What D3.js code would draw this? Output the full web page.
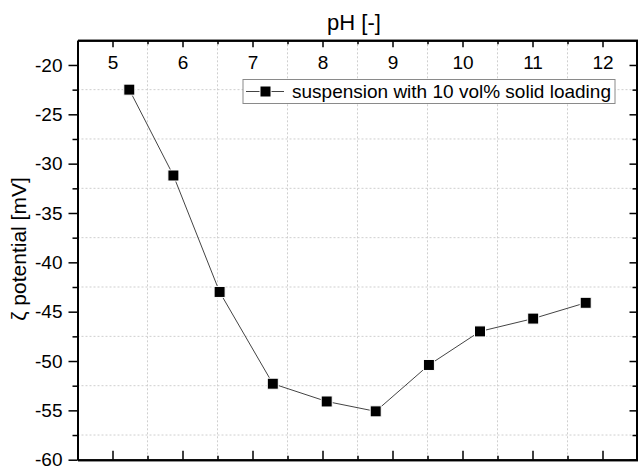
<!DOCTYPE html>
<html>
<head>
<meta charset="utf-8">
<script src="https://cdn.jsdelivr.net/npm/d3@7"></script>
<style>
body { margin: 0; background: #fff; }
text { font-family: "Liberation Sans", Arial, sans-serif; fill: #000; }
</style>
</head>
<body>
<script>
var width = 638;
var height = 468;

// data
var phValues = [5.24, 5.87, 6.53, 7.29, 8.06, 8.76, 9.52, 10.25, 11.01, 11.76];
var zetaValues = [-22.5, -31.2, -43.0, -52.3, -54.1, -55.1, -50.4, -47.0, -45.7, -44.1];
var xTicks = [5, 6, 7, 8, 9, 10, 11, 12];
var xMinor = [5.5, 6.5, 7.5, 8.5, 9.5, 10.5, 11.5];
var yTicks = [-20, -25, -30, -35, -40, -45, -50, -55, -60];
var yMinor = [-22.5, -27.5, -32.5, -37.5, -42.5, -47.5, -52.5, -57.5];
var seriesName = "suspension with 10 vol% solid loading";

var data = phValues.map(function (d, i) { return { ph: d, zeta: zetaValues[i] }; });

var x = d3.scaleLinear().domain([4.5, 12.5]).range([77.5, 637.5]);
var y = d3.scaleLinear().domain([-60, -17.5]).range([459.7, 40.3]);

var svg = d3.select("body").append("svg")
    .attr("width", width)
    .attr("height", height);

// grid at the minor positions
svg.append("g").selectAll("line.gx")
    .data(xMinor).enter().append("line")
    .attr("x1", function (d) { return x(d); })
    .attr("x2", function (d) { return x(d); })
    .attr("y1", y.range()[1])
    .attr("y2", y.range()[0])
    .style("stroke", "#cfcfcf")
    .style("stroke-width", 1)
    .style("stroke-dasharray", "2,2");

svg.append("g").selectAll("line.gy")
    .data(yMinor).enter().append("line")
    .attr("x1", x.range()[0])
    .attr("x2", x.range()[1])
    .attr("y1", function (d) { return y(d); })
    .attr("y2", function (d) { return y(d); })
    .style("stroke", "#cfcfcf")
    .style("stroke-width", 1)
    .style("stroke-dasharray", "2,2");

function styleAxis(g) {
    g.selectAll(".domain").style("stroke", "#000").style("stroke-width", 2);
    g.selectAll(".tick line").style("stroke", "#000").style("stroke-width", 1.5);
    g.selectAll(".tick text").style("font-size", "19px").style("font-family", "Liberation Sans, Arial, sans-serif");
}

var plainFormat = function (d) { return String(d); };

// top axis: labels, inward ticks
var topAxis = svg.append("g")
    .attr("transform", "translate(0," + y.range()[1] + ")")
    .call(d3.axisTop(x).tickValues(xTicks).tickSize(-7).tickFormat(plainFormat).tickSizeOuter(0));
styleAxis(topAxis);
topAxis.selectAll(".tick text").attr("dy", "0.35em").attr("y", 22);
svg.append("g")
    .attr("transform", "translate(0," + y.range()[1] + ")")
    .call(d3.axisTop(x).tickValues(xMinor).tickSize(-4).tickFormat("").tickSizeOuter(0))
    .call(styleAxis);

// bottom axis: no labels, inward ticks
svg.append("g")
    .attr("transform", "translate(0," + y.range()[0] + ")")
    .call(d3.axisBottom(x).tickValues(xTicks).tickSize(-9).tickFormat("").tickSizeOuter(0))
    .call(styleAxis);
svg.append("g")
    .attr("transform", "translate(0," + y.range()[0] + ")")
    .call(d3.axisBottom(x).tickValues(xMinor).tickSize(-4).tickFormat("").tickSizeOuter(0))
    .call(styleAxis);

// left axis: outward ticks with labels
var leftAxis = svg.append("g")
    .attr("transform", "translate(" + x.range()[0] + ",0)")
    .call(d3.axisLeft(y).tickValues(yTicks).tickSize(9).tickPadding(6).tickFormat(plainFormat).tickSizeOuter(0));
styleAxis(leftAxis);
svg.append("g")
    .attr("transform", "translate(" + x.range()[0] + ",0)")
    .call(d3.axisLeft(y).tickValues(yMinor).tickSize(5).tickFormat("").tickSizeOuter(0))
    .call(styleAxis);

// right axis: inward ticks
svg.append("g")
    .attr("transform", "translate(" + (x.range()[1] - 1) + ",0)")
    .call(d3.axisRight(y).tickValues(yTicks).tickSize(-7).tickFormat("").tickSizeOuter(0))
    .call(styleAxis);
svg.append("g")
    .attr("transform", "translate(" + (x.range()[1] - 1) + ",0)")
    .call(d3.axisRight(y).tickValues(yMinor).tickSize(-4).tickFormat("").tickSizeOuter(0))
    .call(styleAxis);

// axis titles
svg.append("text")
    .attr("x", 354)
    .attr("y", 30)
    .style("text-anchor", "middle")
    .style("font-size", "22px")
    .text("pH [-]");

svg.append("text")
    .attr("transform", "translate(26,249) rotate(-90)")
    .style("text-anchor", "middle")
    .style("font-size", "21px")
    .text("\u03B6 potential [mV]");

// series
var line = d3.line()
    .x(function (d) { return x(d.ph); })
    .y(function (d) { return y(d.zeta); });

svg.append("path")
    .datum(data)
    .attr("d", line)
    .style("fill", "none")
    .style("stroke", "#444")
    .style("stroke-width", 1);

svg.selectAll("rect.pt")
    .data(data).enter().append("rect")
    .attr("class", "pt")
    .attr("x", function (d) { return x(d.ph) - 5.5; })
    .attr("y", function (d) { return y(d.zeta) - 5.5; })
    .attr("width", 11)
    .attr("height", 11)
    .style("fill", "#000")
    .style("stroke", "#fff")
    .style("stroke-width", 1);

// legend
var legend = svg.append("g").attr("transform", "translate(243,79.5)");
legend.append("rect")
    .attr("width", 372)
    .attr("height", 24)
    .style("fill", "#fff")
    .style("stroke", "#8a8a8a")
    .style("stroke-width", 1);
legend.append("line")
    .attr("x1", 3).attr("x2", 41)
    .attr("y1", 12).attr("y2", 12)
    .style("stroke", "#444").style("stroke-width", 1);
legend.append("rect")
    .attr("x", 17).attr("y", 6.5)
    .attr("width", 11).attr("height", 11)
    .style("fill", "#000").style("stroke", "#fff").style("stroke-width", 1);
legend.append("text")
    .attr("x", 49)
    .attr("y", 18.5)
    .style("font-size", "19px")
    .text(seriesName);
</script>
</body>
</html>
